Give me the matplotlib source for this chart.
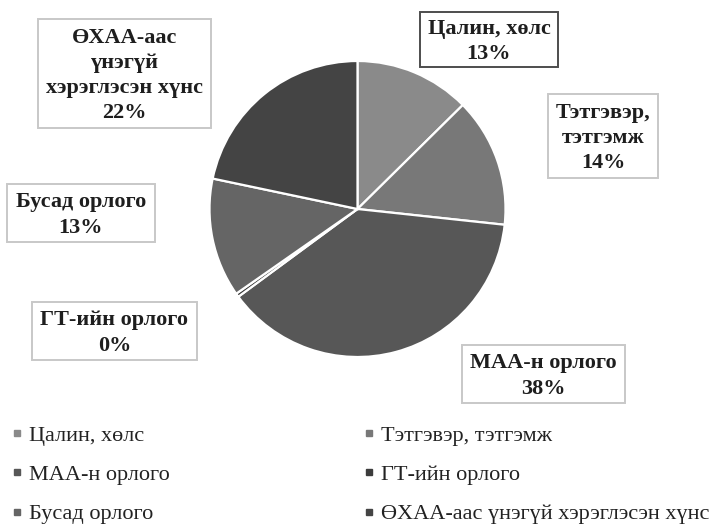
import matplotlib.pyplot as plt
from matplotlib.patches import Rectangle
from matplotlib.lines import Line2D

# data
categories = ['Цалин, хөлс', 'Тэтгэвэр, тэтгэмж', 'МАА-н орлого',
              'ГТ-ийн орлого', 'Бусад орлого', 'ӨХАА-аас үнэгүй хэрэглэсэн хүнс']
box_labels = ['Цалин, хөлс', 'Тэтгэвэр,\nтэтгэмж', 'МАА-н орлого',
              'ГТ-ийн орлого', 'Бусад орлого', 'ӨХАА-аас\nүнэгүй\nхэрэглэсэн хүнс']
shares = [12.6, 14.1, 38.2, 0.4, 13.0, 21.7]
colors = ['#8a8a8a', '#787878', '#575757', '#3c3c3c', '#656565', '#444444']

# label boxes in image pixels (left, top, right, bottom)
box_pos = [(420, 12, 558, 67), (548, 94, 658, 178), (462, 345, 625, 403),
           (32, 302, 197, 360), (7, 184, 155, 242), (38, 19, 211, 128)]
box_edge = ['#4d4d4d', '#c8c8c8', '#c8c8c8', '#c8c8c8', '#c8c8c8', '#c8c8c8']

W, H = 712, 524
plt.rcParams['font.family'] = ['Liberation Serif', 'DejaVu Serif']

fig = plt.figure(figsize=(W / 100, H / 100), dpi=100)
ax = fig.add_axes([0, 0, 1, 1])

ax.pie(shares, colors=colors, startangle=90, counterclock=False,
       center=(357.5, H - 209), radius=148,
       wedgeprops=dict(edgecolor='white', linewidth=1.6))

total = sum(shares)
for lab, v, (x0, y0, x1, y1), ec in zip(box_labels, shares, box_pos, box_edge):
    ax.add_patch(Rectangle((x0, H - y1), x1 - x0, y1 - y0, facecolor='white',
                           edgecolor=ec, linewidth=1.4, zorder=3))
    ax.text((x0 + x1) / 2, H - (y0 + y1) / 2 - 2, f'{lab}\n{v / total * 100:.0f}%',
            ha='center', va='center', fontsize=16, fontweight='bold',
            color='#1e1e1e', linespacing=1.35, zorder=4)

ax.set_xlim(0, W)
ax.set_ylim(0, H)
ax.set_aspect('equal')
ax.axis('off')

# legend in two columns, row-major order
handles = [Line2D([], [], marker='s', linestyle='', color=c, markersize=5)
           for c in colors]
left = [0, 2, 4]
right = [1, 3, 5]
leg_kw = dict(loc='upper left', frameon=False, fontsize=16, borderpad=0,
              borderaxespad=0, handlelength=0.6, handletextpad=0.25,
              labelspacing=0.85, bbox_transform=ax.transData,
              labelcolor='#222222')
leg1 = ax.legend([handles[i] for i in left], [categories[i] for i in left],
                 bbox_to_anchor=(10, H - 425), **leg_kw)
ax.add_artist(leg1)
ax.legend([handles[i] for i in right], [categories[i] for i in right],
          bbox_to_anchor=(362.5, H - 425), **leg_kw)

fig.savefig('out.png', dpi=100)
